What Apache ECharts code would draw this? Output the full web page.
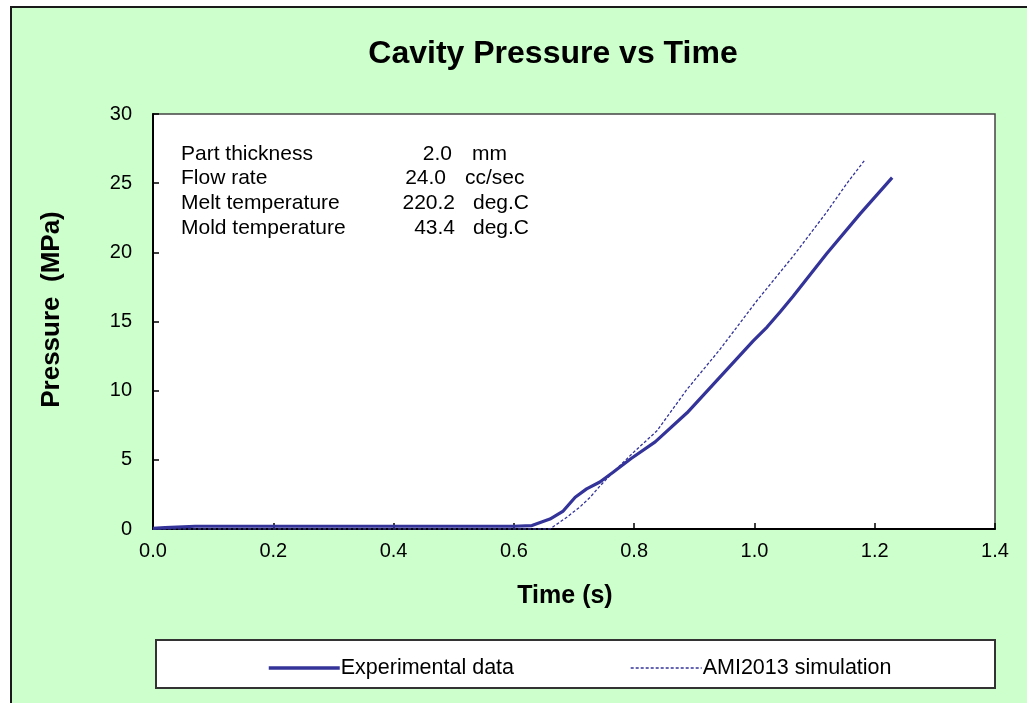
<!DOCTYPE html>
<html>
<head>
<meta charset="utf-8">
<script src="https://cdn.jsdelivr.net/npm/echarts@6/dist/echarts.min.js"></script>
<style>
html,body{margin:0;padding:0;background:#fff;width:1027px;height:703px;overflow:hidden;}
#frame{position:absolute;left:10px;top:6px;width:1100px;height:800px;background:#CCFFCC;border:2px solid #1a1a1a;}
#chart{position:absolute;left:0;top:0;width:1027px;height:703px;}
</style>
</head>
<body>
<div id="frame"></div>
<div id="chart"></div>
<script>
// Experimental data (time s, pressure MPa)
var expTime     = [0, 0.02, 0.07, 0.2, 0.4, 0.6, 0.63, 0.66, 0.682, 0.702, 0.721, 0.743, 0.765, 0.795, 0.835, 0.888, 0.943, 0.998, 1.021, 1.043, 1.064, 1.12, 1.176, 1.229];
var expPressure = [0.05, 0.1, 0.2, 0.2, 0.2, 0.2, 0.25, 0.72, 1.3, 2.3, 2.9, 3.4, 4.1, 5.1, 6.3, 8.4, 11.0, 13.6, 14.6, 15.7, 16.8, 19.9, 22.8, 25.4];
// AMI2013 simulation
var simTime     = [0, 0.2, 0.4, 0.6, 0.66, 0.688, 0.71, 0.727, 0.743, 0.765, 0.798, 0.838, 0.888, 0.943, 1.004, 1.064, 1.12, 1.154, 1.184];
var simPressure = [0, 0, 0, 0, 0, 0.85, 1.6, 2.3, 3.1, 4.1, 5.5, 7.1, 10.1, 13.0, 16.5, 19.7, 22.9, 25.0, 26.7];
var seriesNames = ['Experimental data', 'AMI2013 simulation'];
// annotation block
var annoLabels = ['Part thickness', 'Flow rate', 'Melt temperature', 'Mold temperature'];
var annoValues = ['2.0', '24.0', '220.2', '43.4'];
var annoUnits  = ['mm', 'cc/sec', 'deg.C', 'deg.C'];

function zip(a, b) { return a.map(function (v, i) { return [v, b[i]]; }); }

var FONT = '"Liberation Sans", Arial, sans-serif';
var lineColor = '#333399';

var annoY = [154, 178, 203, 228];
var valRight = [452, 446, 455, 455];
var unitLeft = [472, 465, 473, 473];
var graphics = [{
  type: 'rect', z: 1,
  shape: { x: 156, y: 640, width: 839, height: 48 },
  style: { fill: '#fff', stroke: '#333', lineWidth: 2 }
}];
annoLabels.forEach(function (lab, i) {
  graphics.push({ type: 'text', z: 10, x: 181, y: annoY[i],
    style: { text: lab, font: '21px ' + FONT, fill: '#000', textVerticalAlign: 'middle', textAlign: 'left' } });
  graphics.push({ type: 'text', z: 10, x: valRight[i], y: annoY[i],
    style: { text: annoValues[i], font: '21px ' + FONT, fill: '#000', textVerticalAlign: 'middle', textAlign: 'right' } });
  graphics.push({ type: 'text', z: 10, x: unitLeft[i], y: annoY[i],
    style: { text: annoUnits[i], font: '21px ' + FONT, fill: '#000', textVerticalAlign: 'middle', textAlign: 'left' } });
});

var chart = echarts.init(document.getElementById('chart'), null, { renderer: 'canvas' });
chart.setOption({
  backgroundColor: 'transparent',
  animation: false,
  title: {
    text: 'Cavity Pressure vs Time',
    left: 548, top: 33, textAlign: 'center',
    textStyle: { fontFamily: FONT, fontSize: 32, fontWeight: 'bold', color: '#000' }
  },
  legend: {
    left: 262, top: 652,
    itemWidth: 71, itemHeight: 14, itemGap: 116,
    itemStyle: { opacity: 0 },
    textStyle: { fontFamily: FONT, fontSize: 21.5, color: '#000', padding: [0, 0, 0, -4] },
    data: [
      { name: seriesNames[0], lineStyle: { width: 3.5 } },
      { name: seriesNames[1], lineStyle: { width: 1.3 } }
    ]
  },
  grid: {
    left: 153, top: 114, right: 32, bottom: 174,
    show: true, backgroundColor: '#fff', borderColor: '#444', borderWidth: 1.5
  },
  xAxis: {
    type: 'value', min: 0, max: 1.4, interval: 0.2,
    name: 'Time (s)', nameLocation: 'middle', nameGap: 55,
    nameTextStyle: { fontFamily: FONT, fontSize: 25, fontWeight: 'bold', color: '#000', padding: [0, 18, 0, 0] },
    axisLine: { show: true, lineStyle: { color: '#000', width: 2 } },
    axisTick: { show: true, inside: true, length: 6, lineStyle: { color: '#000', width: 1.5 } },
    axisLabel: { fontFamily: FONT, fontSize: 20, color: '#000', margin: 12,
      formatter: function (v) { return v.toFixed(1); } },
    splitLine: { show: false }
  },
  yAxis: {
    type: 'value', min: 0, max: 30, interval: 5,
    name: 'Pressure  (MPa)', nameLocation: 'middle', nameGap: 88, nameRotate: 90,
    nameTextStyle: { fontFamily: FONT, fontSize: 26, fontWeight: 'bold', color: '#000', padding: [0, 0, 0, 24] },
    axisLine: { show: true, lineStyle: { color: '#000', width: 2 } },
    axisTick: { show: true, inside: true, length: 6, lineStyle: { color: '#000', width: 1.5 } },
    axisLabel: { fontFamily: FONT, fontSize: 20, color: '#000', margin: 21 },
    splitLine: { show: false }
  },
  graphic: graphics,
  series: [
    {
      name: seriesNames[0], type: 'line', data: zip(expTime, expPressure),
      symbol: 'none', smooth: false, z: 3,
      lineStyle: { color: lineColor, width: 3.2, join: 'round' },
      itemStyle: { color: lineColor }
    },
    {
      name: seriesNames[1], type: 'line', data: zip(simTime, simPressure),
      symbol: 'none', smooth: false, z: 4,
      lineStyle: { color: lineColor, width: 1.3, type: [3, 2] },
      itemStyle: { color: lineColor }
    }
  ]
});
</script>
</body>
</html>
